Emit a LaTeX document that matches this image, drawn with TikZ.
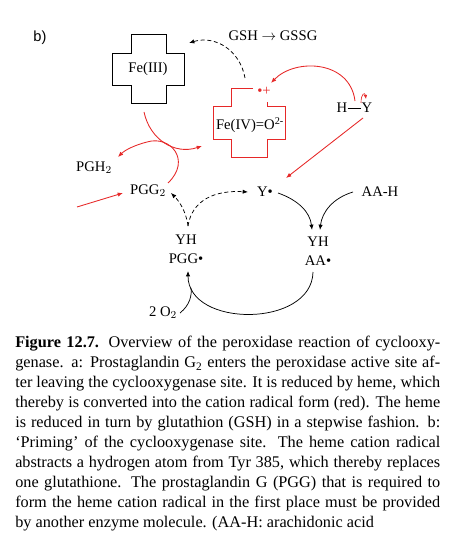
\documentclass[tikz,border=0pt]{standalone}
\usepackage{fontspec}
\setmainfont{Liberation Serif}
\setsansfont{Liberation Sans}
\usetikzlibrary{arrows.meta}
\definecolor{hemered}{RGB}{230,40,40}
\tikzset{
  lbl/.style={font=\fontsize{11}{13}\selectfont, inner sep=0pt},
  tip/.style={-{Latex[length=4pt,width=3.2pt]}},
  redarr/.style={tip, draw=hemered, line width=0.65pt},
  blkarr/.style={tip, line width=0.55pt},
  dasharr/.style={tip, line width=0.55pt, dash pattern=on 3pt off 2pt}
}
\begin{document}
\begin{tikzpicture}[x=0.75pt,y=-0.75pt]
 \useasboundingbox (0,0) rectangle (457,549);
 % heme crosses
 \draw[line width=0.6pt] (131,34)--(166,34)--(166,53)--(184,53)--(184,85)--(166,85)--(166,103)
   --(131,103)--(131,85)--(112,85)--(112,53)--(131,53)--cycle;
 \draw[line width=0.6pt,hemered] (253,88)--(231,88)--(231,106)--(213,106)--(213,139)--(231,139)--(231,157)
   --(267,157)--(267,139)--(285,139)--(285,106)--(267,106)--(267,102);
 % labels
 \node[lbl,font=\sffamily\fontsize{11}{13}\selectfont] (b) at (40,38) {b)};
 \node[lbl] (gsh) at (273,36) {GSH $\rightarrow$ GSSG};
 \node[lbl] (fe3) at (148,69) {Fe(III)};
 \node[lbl] (fe4) at (250,125) {Fe(IV)=O\textsuperscript{2-}};
 \node[lbl,text=hemered] (rad) at (264,91) {\textbullet+};
 \node[lbl] (h) at (342,108) {H};
 \node[lbl] (y) at (367,108) {Y};
 \node[lbl] (pgh) at (94,168) {PGH$_2$};
 \node[lbl] (pgg) at (148,191) {PGG$_2$};
 \node[lbl] (yrad) at (265,192) {Y\textbullet};
 \node[lbl] (aah) at (380,192) {AA-H};
 \node[lbl,align=center] (yhaa) at (318,251) {YH\\[1pt]AA\textbullet};
 \node[lbl,align=center] (yhpgg) at (186,249) {YH\\[1pt]PGG\textbullet};
 \node[lbl] (o2) at (163,313) {2 O$_2$};
 \draw[line width=0.6pt] (h.east) -- (y.west);
 % connector ends
 \coordinate (c1) at (245,78);  \coordinate (c2) at (189,43);
 \coordinate (c3) at (355,101); \coordinate (c4) at (271,83);
 \coordinate (c5) at (361,103); \coordinate (c6) at (366,99);
 \coordinate (c7) at (363,118); \coordinate (c8) at (286,178);
 \coordinate (c9) at (144,112); \coordinate (c10) at (202,146);
 \coordinate (c11) at (168,183); \coordinate (c12) at (118,157);
 \coordinate (c13) at (77,207);  \coordinate (c14) at (123,193);
 \coordinate (c15) at (188,226); \coordinate (c16) at (171,193); \coordinate (c17) at (248,192);
 \coordinate (c18) at (278,193); \coordinate (c19) at (312,230);
 \coordinate (c20) at (353,192); \coordinate (c21) at (320,230);
 \coordinate (c22) at (313,272); \coordinate (c23) at (188,271);
 \coordinate (c24) at (180,313); \coordinate (c25) at (191,288);
 % red: heme oxidation and tyrosyl radical
 \draw[redarr] (c3) .. controls (350,60) and (295,58) .. (c4);
 \draw[redarr,line width=0.5pt,-{Latex[length=3pt,width=2.6pt]}] (c5) .. controls (361,93) and (365,92) .. (c6);
 \draw[redarr] (c7) -- (c8);
 \draw[redarr] (c9) .. controls (150,140) and (175,155) .. (c10);
 \draw[redarr] (c11) .. controls (192,160) and (170,135) .. (147,142)
   .. controls (135,145) and (125,150) .. (c12);
 \draw[redarr] (c13) -- (c14);
 % black: glutathione and cyclooxygenase cycle
 \draw[dasharr] (c1) .. controls (240,50) and (215,35) .. (c2);
 \draw[dasharr] (c15) .. controls (186,210) and (178,200) .. (c16);
 \draw[dasharr] (c15) .. controls (192,200) and (215,190) .. (c17);
 \draw[blkarr] (c18) .. controls (298,200) and (310,212) .. (c19);
 \draw[blkarr] (c20) .. controls (333,198) and (322,212) .. (c21);
 \draw[blkarr] (c22) .. controls (312,328) and (188,328) .. (c23);
 \draw[line width=0.55pt] (c24) .. controls (190,305) and (192,295) .. (c25);
 % caption
 \node[anchor=north west, inner sep=0pt, text width=318.75pt, align=justify,
   font=\fontsize{12.2}{15}\selectfont] (cap) at (15,336) {\hyphenpenalty=10000
  \textbf{Figure 12.7.} Overview of the peroxidase reaction of cyclooxy-\linebreak
  genase. a: Prostaglandin G\textsubscript{2} enters the peroxidase active site af-\linebreak
  ter leaving the cyclooxygenase site. It is reduced by heme, which\linebreak
  thereby is converted into the cation radical form (red). The heme\linebreak
  is reduced in turn by glutathion (GSH) in a stepwise fashion. b:\linebreak
  `Priming' of the cyclooxygenase site. The heme cation radical\linebreak
  abstracts a hydrogen atom from Tyr 385, which thereby replaces\linebreak
  one glutathione. The prostaglandin G (PGG) that is required to\linebreak
  form the heme cation radical in the first place must be provided\linebreak
  by another enzyme molecule. (AA-H: arachidonic acid};
\end{tikzpicture}
\end{document}
